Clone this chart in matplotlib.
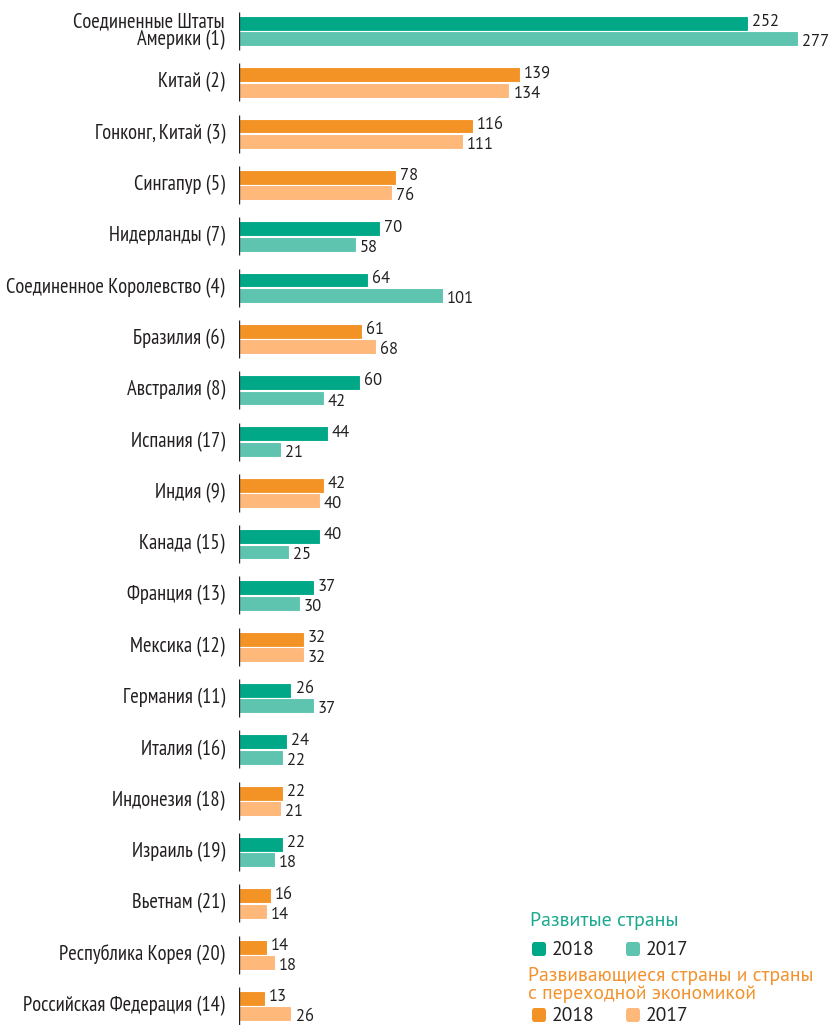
import matplotlib
matplotlib.use("Agg")
import matplotlib.pyplot as plt
from matplotlib.patches import FancyBboxPatch

countries = ["Соединенные Штаты\nАмерики (1)", "Китай (2)", "Гонконг, Китай (3)", "Сингапур (5)",
             "Нидерланды (7)", "Соединенное Королевство (4)", "Бразилия (6)", "Австралия (8)",
             "Испания (17)", "Индия (9)", "Канада (15)", "Франция (13)", "Мексика (12)",
             "Германия (11)", "Италия (16)", "Индонезия (18)", "Израиль (19)", "Вьетнам (21)",
             "Республика Корея (20)", "Российская Федерация (14)"]
v2018 = [252, 139, 116, 78, 70, 64, 61, 60, 44, 42, 40, 37, 32, 26, 24, 22, 22, 16, 14, 13]
v2017 = [277, 134, 111, 76, 58, 101, 68, 42, 21, 40, 25, 30, 32, 37, 22, 21, 18, 14, 18, 26]
developed = [True, False, False, False, True, True, False, True, True, False, True, True, False,
             True, True, False, True, False, False, False]

C_DEV18, C_DEV17 = "#00A887", "#5EC4B0"
C_DEV_ING18, C_DEV_ING17 = "#F39325", "#FDB87A"
LABEL_FONT = ["PT Sans Narrow", "Roboto Condensed", "DejaVu Sans"]
NUM_FONT = ["PT Sans", "Open Sans", "DejaVu Sans"]

W, H = 832, 1025
fig = plt.figure(figsize=(W / 100, H / 100), dpi=100)
ax_left, ax_right = 239, 820
ax_top, ax_bot = 5, 1025
ax = fig.add_axes([ax_left / W, 1 - ax_bot / H, (ax_right - ax_left) / W, (ax_bot - ax_top) / H])
unit = (1006 - 31) / 19.0
ax.set_ylim(19 + (ax_bot - 1006) / unit, -(31 - ax_top) / unit)
ax.set_xlim(0, (ax_right - ax_left) / 2.018)
ax.axis("off")

for i, (c, a, b, d) in enumerate(zip(countries, v2018, v2017, developed)):
    c18 = C_DEV18 if d else C_DEV_ING18
    c17 = C_DEV17 if d else C_DEV_ING17
    ax.barh(i - 0.148, a, height=0.29, color=c18, edgecolor="white", linewidth=0.8)
    ax.barh(i + 0.152, b, height=0.29, color=c17, edgecolor="white", linewidth=0.8)
    ax.text(a + 2.0, i - 0.17, str(a), va="center", ha="left", fontsize=12,
            family=NUM_FONT, color="#231F20")
    ax.text(b + 2.0, i + 0.22, str(b), va="center", ha="left", fontsize=12,
            family=NUM_FONT, color="#231F20")
    ax.vlines(0, i - 0.37, i + 0.37, color="#231F20", linewidth=1.0)
    ax.text(-14 / 2.018, i, c, ha="right", va="center", fontsize=14.8, family=LABEL_FONT,
            color="#231F20", linespacing=0.92, multialignment="right")

def fy(y):
    return 1 - y / H

def fx(x):
    return x / W

fig.text(fx(530), fy(921), "Развитые страны", color="#1BAA8F", fontsize=14.3,
         family=NUM_FONT, va="center", ha="left")
fig.text(fx(528), fy(985), "Развивающиеся страны и страны\nс переходной экономикой",
         color="#F3922C", fontsize=14.1, family=NUM_FONT, va="center", ha="left",
         linespacing=1.05)

def swatch(x, y, color):
    p = FancyBboxPatch((fx(x), fy(y + 14)), 14 / W, 14 / H,
                       boxstyle="round,pad=0,rounding_size=0.003",
                       transform=fig.transFigure, color=color, linewidth=0)
    fig.add_artist(p)

for (x, y, col, lab) in [(532, 942, C_DEV18, "2018"), (626, 942, C_DEV17, "2017"),
                         (532, 1008, C_DEV_ING18, "2018"), (626, 1008, C_DEV_ING17, "2017")]:
    swatch(x, y, col)
    fig.text(fx(x + 20), fy(y + 8), lab, fontsize=14, family=NUM_FONT, color="#231F20",
             va="center", ha="left")

fig.savefig("out.png", dpi=100)
